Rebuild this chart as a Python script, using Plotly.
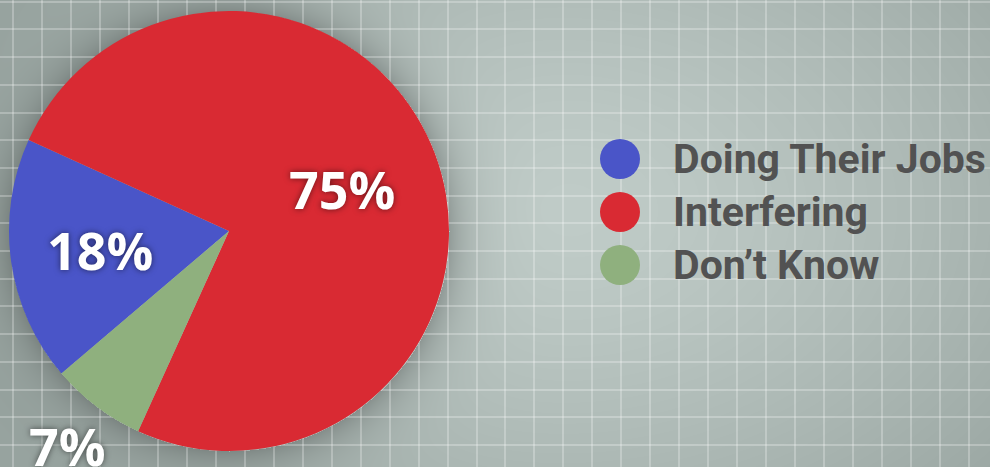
import math, zlib, struct, base64
import numpy as np
import plotly.graph_objects as go

# ---- data ----
categories = ["Doing Their Jobs", "Interfering", "Don\u2019t Know"]
values = [18, 75, 7]
colors = ["#4A55C8", "#D92A33", "#8FB07E"]

# ---- layout constants (styles / positions) ----
W, H = 990, 467
CX, CY, R = 229, 231, 220          # pie centre / radius in pixels
ROTATION = 229.6                   # start angle of first slice (clockwise from 12 o'clock)
LABEL_RFRAC = [0.59, 0.55, 1.22]   # radial distance of % labels
LEG_X, LEG_TEXT_X = 620, 671
LEG_Y0, LEG_DY = 159, 53

# ---- background gradient image (decoration) ----
yy, xx = np.mgrid[0:H, 0:W].astype(float)
d = np.sqrt(((xx - 560) / 620) ** 2 + ((yy - 210) / 430) ** 2)
t = np.clip(d, 0, 1) ** 1.4
light = np.array([192, 204, 200], float)
dark = np.array([152, 164, 160], float)
img = light * (1 - t)[..., None] + dark * t[..., None]
dp = np.sqrt((xx - CX) ** 2 + (yy - CY) ** 2) - R
sh = np.where(dp > 0, np.exp(-np.clip(dp, 0, None) / 22.0), 0) * 0.22
img = img * (1 - sh[..., None])
img = np.clip(img, 0, 255).astype(np.uint8)

def png_uri(a):
    h, w, _ = a.shape
    raw = b"".join(b"\x00" + a[i].tobytes() for i in range(h))
    def chunk(tag, data):
        c = struct.pack(">I", len(data)) + tag + data
        return c + struct.pack(">I", zlib.crc32(tag + data) & 0xffffffff)
    png = b"\x89PNG\r\n\x1a\n" + chunk(b"IHDR", struct.pack(">IIBBBBB", w, h, 8, 2, 0, 0, 0))
    png += chunk(b"IDAT", zlib.compress(raw, 9)) + chunk(b"IEND", b"")
    return "data:image/png;base64," + base64.b64encode(png).decode()

fig = go.Figure()

# pie
fig.add_trace(go.Pie(
    labels=categories, values=values, sort=False, direction="clockwise",
    rotation=ROTATION, marker=dict(colors=colors, line=dict(width=0)),
    textinfo="none", hoverinfo="label+percent", showlegend=False,
    domain=dict(x=[(CX - R) / W, (CX + R) / W], y=[1 - (CY + R) / H, 1 - (CY - R) / H]),
))

# legend markers (circles)
fig.add_trace(go.Scatter(
    x=[LEG_X] * len(categories), y=list(range(len(categories))),
    mode="markers", marker=dict(size=40, color=colors, line=dict(width=0)),
    xaxis="x2", yaxis="y2", hoverinfo="skip", showlegend=False,
))

annotations = []
# legend labels
for i, c in enumerate(categories):
    annotations.append(dict(
        x=LEG_TEXT_X, y=i, xref="x2", yref="y2", text=c, showarrow=False,
        xanchor="left", yanchor="middle",
        font=dict(family="Roboto", size=41, color="#525252", weight="bold"),
    ))

# percent labels computed from values
total = sum(values)
cum = 0
for i, v in enumerate(values):
    mid = ROTATION + (cum + v / 2) / total * 360.0  # clockwise from 12 o'clock
    cum += v
    a = math.radians(mid)
    px = CX + R * LABEL_RFRAC[i] * math.sin(a)
    py = CY - R * LABEL_RFRAC[i] * math.cos(a)
    annotations.append(dict(
        x=px, y=py, xref="x", yref="y", text=f"{v}%", showarrow=False,
        xanchor="center", yanchor="middle",
        font=dict(family="Open Sans", size=52, color="white", weight="bold",
                  shadow="0px 0px 6px rgba(0,0,0,0.55)"),
    ))

# y-range for legend axis so row i lands at pixel LEG_Y0 + i*LEG_DY
y2_top = -LEG_Y0 / LEG_DY
y2_bot = (H - LEG_Y0) / LEG_DY

fig.update_layout(
    width=W, height=H, margin=dict(l=0, r=0, t=0, b=0),
    paper_bgcolor="#B4C2BE", plot_bgcolor="rgba(0,0,0,0)",
    images=[dict(source=png_uri(img), xref="paper", yref="paper", x=0, y=1,
                 sizex=1, sizey=1, sizing="stretch", layer="below",
                 xanchor="left", yanchor="top")],
    xaxis=dict(range=[0, W], domain=[0, 1], showgrid=True, gridcolor="rgba(255,255,255,0.26)",
               gridwidth=2, tick0=13.3, dtick=28.95, showticklabels=False,
               zeroline=False, showline=False, ticks="", fixedrange=True),
    yaxis=dict(range=[H, 0], domain=[0, 1], showgrid=True, gridcolor="rgba(255,255,255,0.26)",
               gridwidth=2, tick0=1.7, dtick=27.7, showticklabels=False,
               zeroline=False, showline=False, ticks="", fixedrange=True),
    xaxis2=dict(range=[0, W], domain=[0, 1], overlaying="x", visible=False, fixedrange=True),
    yaxis2=dict(range=[y2_bot, y2_top], domain=[0, 1], overlaying="y", visible=False, fixedrange=True),
    annotations=annotations,
    showlegend=False,
)

fig.write_html("out.html", config={"displayModeBar": False},
               post_script="document.body.style.margin='0';document.body.style.overflow='hidden';")
